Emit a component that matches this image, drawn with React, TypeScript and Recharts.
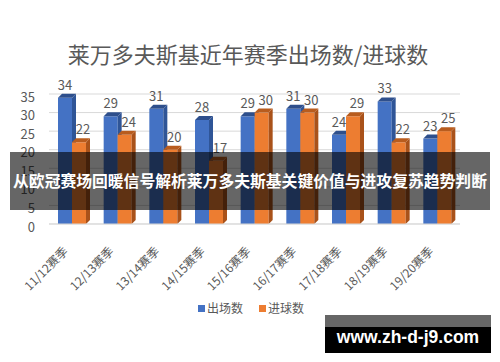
import React from 'react'
import { BarChart, Bar, XAxis, YAxis, CartesianGrid, LabelList } from 'recharts'

const seasons = ['11/12赛季', '12/13赛季', '13/14赛季', '14/15赛季', '15/16赛季', '16/17赛季', '17/18赛季', '18/19赛季', '19/20赛季']
const appearances = [34, 29, 31, 28, 29, 31, 24, 33, 23]
const goals = [22, 24, 20, 17, 30, 30, 29, 22, 25]
const yTicks = [0, 5, 10, 15, 20, 25, 30, 35]
const seriesNames = ['出场数', '进球数']

const title = '莱万多夫斯基近年赛季出场数/进球数'
const banner = '从欧冠赛场回暖信号解析莱万多夫斯基关键价值与进攻复苏趋势判断'
const watermark = 'www.zh-d-j9.com'

const BLUE = '#4472C4'
const ORANGE = '#ED7D31'
const TEXT = '#595959'
const FONT = '"Noto Sans CJK SC", "Noto Sans", sans-serif'

const data = seasons.map((season, i) => ({
  season,
  apps: appearances[i],
  goals: goals[i],
}))

// front face + right side + top cap, to fake the 3D column look
const make3D = (front: string, side: string, top: string) => (props: any) => {
  const { x, y, width, height } = props
  const d = 4
  if (!height) return null
  return (
    <g>
      <rect x={x} y={y} width={width} height={height} fill={front} />
      <polygon
        points={`${x + width},${y} ${x + width + d},${y - d} ${x + width + d},${y + height - d} ${x + width},${y + height}`}
        fill={side}
      />
      <polygon
        points={`${x},${y} ${x + d},${y - d} ${x + width + d},${y - d} ${x + width},${y}`}
        fill={top}
      />
    </g>
  )
}

const SeasonTick = (props: any) => {
  const { x, y, payload } = props
  const tx = x - 3
  const ty = y + 20
  return (
    <text
      x={tx}
      y={ty}
      transform={`rotate(-45, ${tx}, ${ty})`}
      textAnchor="end"
      fill={TEXT}
      fontSize={12}
      fontFamily={FONT}
    >
      {payload.value}
    </text>
  )
}

export default function App() {
  return (
    <div
      style={{
        position: 'absolute',
        left: 0,
        top: 0,
        width: 500,
        height: 362,
        background: '#fff',
        overflow: 'hidden',
        fontFamily: FONT,
      }}
    >
      <div
        style={{
          position: 'absolute',
          left: 0,
          width: 496,
          top: 39,
          textAlign: 'center',
          fontSize: 22,
          color: TEXT,
          lineHeight: '28px',
        }}
      >
        {title}
      </div>

      <BarChart
        width={500}
        height={362}
        data={data}
        margin={{ top: 94, right: 40, bottom: 78, left: 0 }}
        barGap={0}
        barCategoryGap={0}
      >
        <CartesianGrid horizontal vertical={false} stroke="#d9d9d9" />
        <XAxis
          dataKey="season"
          height={60}
          interval={0}
          tickLine={false}
          axisLine={{ stroke: '#d9d9d9' }}
          tick={<SeasonTick />}
        />
        <YAxis
          width={49}
          domain={[0, 35]}
          ticks={yTicks}
          interval={0}
          axisLine={false}
          tickLine={false}
          tickMargin={8}
          tick={{ fill: TEXT, fontSize: 13, fontFamily: FONT, dy: 3 }}
        />
        <Bar
          dataKey="apps"
          barSize={14}
          isAnimationActive={false}
          shape={make3D(BLUE, '#2F5597', '#2E4F8C')}
        >
          <LabelList dataKey="apps" position="top" offset={8} fill={TEXT} fontSize={13} fontFamily={FONT} />
        </Bar>
        <Bar
          dataKey="goals"
          barSize={14}
          isAnimationActive={false}
          shape={make3D(ORANGE, '#A9521A', '#B85C1E')}
        >
          <LabelList dataKey="goals" position="top" offset={8} dx={4} fill={TEXT} fontSize={13} fontFamily={FONT} />
        </Bar>
      </BarChart>

      {/* legend */}
      <div
        style={{
          position: 'absolute',
          top: 300,
          left: 198,
          display: 'flex',
          alignItems: 'center',
          fontSize: 12,
          color: TEXT,
          lineHeight: '16px',
        }}
      >
        <span style={{ width: 7, height: 7, background: BLUE, marginRight: 2 }} />
        <span style={{ marginRight: 16 }}>{seriesNames[0]}</span>
        <span style={{ width: 7, height: 7, background: ORANGE, marginRight: 2 }} />
        <span>{seriesNames[1]}</span>
      </div>

      {/* overlay banner */}
      <div
        style={{
          position: 'absolute',
          left: 10,
          top: 152,
          width: 480,
          height: 58,
          background: 'rgba(0,0,0,0.6)',
          color: '#fff',
          fontWeight: 700,
          fontSize: 15.8,
          lineHeight: '58px',
          textAlign: 'center',
          whiteSpace: 'nowrap',
        }}
      >
        {banner}
      </div>

      {/* watermark */}
      <div
        style={{
          position: 'absolute',
          left: 325,
          top: 315,
          width: 166,
          height: 38,
          background: '#000',
          borderTop: '12px solid #666',
          boxSizing: 'border-box',
        }}
      />
      <div
        style={{
          position: 'absolute',
          left: 325,
          top: 322,
          width: 166,
          height: 30,
          color: '#fff',
          fontFamily: '"Liberation Sans", Arial, sans-serif',
          fontWeight: 700,
          fontSize: 17.5,
          lineHeight: '30px',
          textAlign: 'center',
        }}
      >
        {watermark}
      </div>
    </div>
  )
}
